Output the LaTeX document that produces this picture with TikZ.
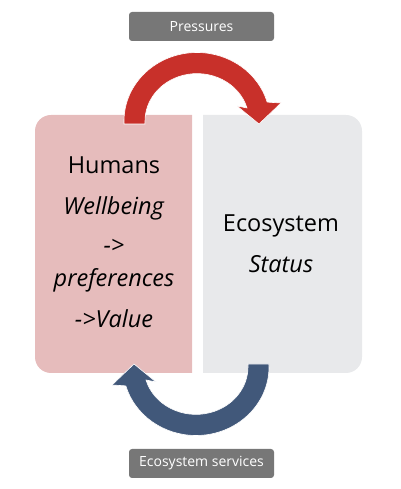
\documentclass[tikz,border=0pt]{standalone}
\usepackage{fontspec}
\setmainfont{Open Sans}
\definecolor{humanpink}{HTML}{E6BCBC}
\definecolor{ecogray}{HTML}{E8E9EB}
\definecolor{pressred}{HTML}{C8302A}
\definecolor{serviceblue}{HTML}{41587A}
\definecolor{labelgray}{HTML}{777777}
\tikzset{
  labelbox/.style={fill=labelgray,text=white,rounded corners=3pt,
    minimum width=145pt,minimum height=29pt,inner sep=0pt,
    font=\fontsize{14}{16}\selectfont},
  boxtext/.style={align=center,inner sep=0pt,text=black,
    font=\fontsize{23.5}{41}\selectfont}
}
\begin{document}
\begin{tikzpicture}[x=1pt,y=1pt]
  \useasboundingbox (0,0) rectangle (400,489);
  % the two halves
  \fill[humanpink] (192,116) -- (51,116) arc[start angle=270,end angle=180,radius=16]
    -- (35,358) arc[start angle=180,end angle=90,radius=16] -- (192,374) -- cycle;
  \fill[ecogray] (203,116) -- (346,116) arc[start angle=270,end angle=360,radius=16]
    -- (362,358) arc[start angle=0,end angle=90,radius=16] -- (203,374) -- cycle;
  \node[boxtext] (humans) at (114,246.5)
    {Humans\\ \textit{Wellbeing}\\[-2pt] \textit{->}\\[-8pt] \textit{preferences}\\ \textit{->Value}};
  \node[boxtext] (ecosystem) at (281,245) {Ecosystem\\ \textit{Status}};
  % curved arrows, the second one turned half round
  \foreach \ang/\col in {0/pressred,180/serviceblue} {
    \begin{scope}[rotate around={\ang:(196.5,245)}]
      \fill[\col,draw=white,line width=0.6pt]
        (124,365) -- (124,368) arc[start angle=180,end angle=16,x radius=73,y radius=68.5]
        -- (281,386) -- (259,365) -- (237,383)
        -- (247,381) arc[start angle=16,end angle=180,x radius=52,y radius=47.5]
        -- (145,365) -- cycle;
    \end{scope}
  }
  \node[labelbox] (pressures) at (201.5,462.5) {Pressures};
  \node[labelbox] (services) at (201.5,25.5) {Ecosystem services};
\end{tikzpicture}
\end{document}
